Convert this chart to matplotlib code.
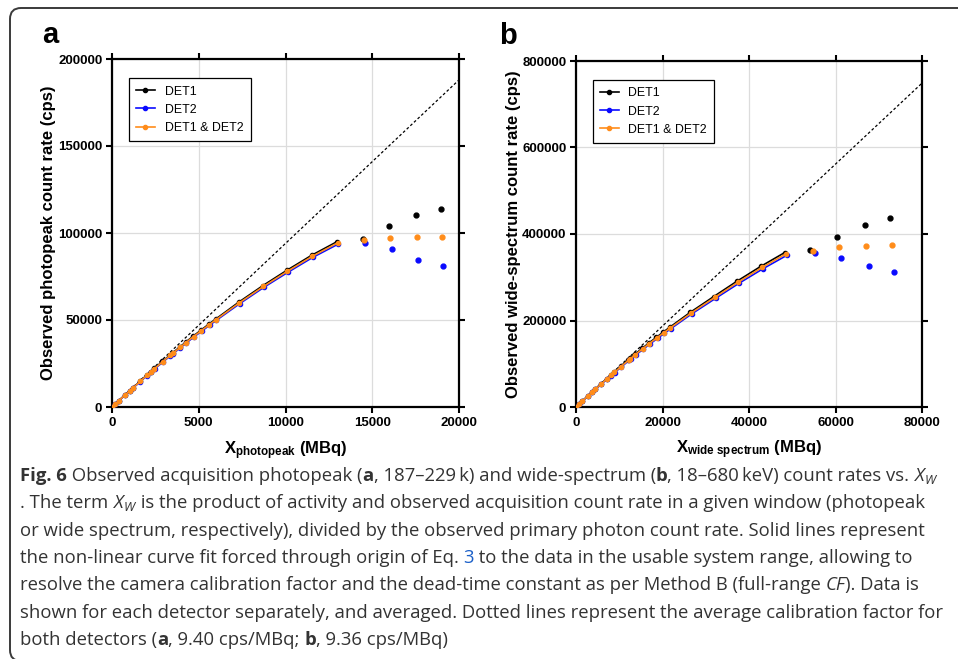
import matplotlib
matplotlib.use('Agg')
import matplotlib.pyplot as plt
from matplotlib import transforms as mtransforms
from matplotlib.patches import FancyBboxPatch

plt.rcParams['font.family'] = ['Liberation Sans', 'DejaVu Sans']
plt.rcParams['mathtext.fontset'] = 'custom'
plt.rcParams['mathtext.rm'] = 'Liberation Sans'
plt.rcParams['mathtext.bf'] = 'Liberation Sans:bold'
plt.rcParams['mathtext.it'] = 'Open Sans:italic'

# ---- panel a: photopeak (usable range, joined by the fit line)
det1_x_a = [0, 190, 380, 765, 1015, 1205, 1625, 2000, 2230, 2430, 2910, 3350, 3500, 3915,
            4245, 4685, 5120, 5580, 5980, 7300, 8700, 10070, 11500, 12950]
det1_y_a = [0, 1810, 3530, 7150, 9360, 11070, 14800, 18330, 20340, 22150, 26180, 29900, 31110, 34530,
            37250, 40770, 44090, 47610, 50530, 60200, 69770, 78500, 87150, 94900]
det2_x_a = [0, 190, 380, 775, 1025, 1215, 1635, 2020, 2250, 2450, 2930, 3370, 3520, 3945,
            4275, 4715, 5160, 5620, 6020, 7360, 8760, 10150, 11580, 13050]
det2_y_a = [0, 1790, 3470, 7050, 9240, 10930, 14600, 18070, 20060, 21850, 25820, 29500, 30690, 34070,
            36750, 40230, 43510, 46990, 49870, 59400, 68830, 77500, 86050, 93700]
avg_x_a = [0, 190, 380, 770, 1020, 1210, 1630, 2010, 2240, 2440, 2920, 3360, 3510, 3930,
           4260, 4700, 5140, 5600, 6000, 7330, 8730, 10110, 11540, 13000]
avg_y_a = [0, 1800, 3500, 7100, 9300, 11000, 14700, 18200, 20200, 22000, 26000, 29700, 30900, 34300,
           37000, 40500, 43800, 47300, 50200, 59800, 69300, 78000, 86600, 94300]
# beyond the usable range (points only)
det1_xo_a = [14440, 15970, 17510, 18970]
det1_yo_a = [96700, 103800, 110300, 114000]
det2_xo_a = [14570, 16110, 17660, 19100]
det2_yo_a = [94400, 90600, 84700, 80800]
avg_xo_a = [14520, 16030, 17570, 19020]
avg_yo_a = [95800, 97300, 97500, 97500]
cf_a = 9.40

# ---- panel b: wide spectrum
det1_x_b = [0, 765, 1380, 2680, 3675, 4440, 5740, 7120, 8040, 8800, 10340, 12100, 12480, 13630,
            15310, 16850, 18610, 20140, 21670, 26420, 31850, 37140, 42730, 48250]
det1_y_b = [0, 7260, 13100, 25200, 34270, 41330, 53220, 65720, 73890, 80640, 94250, 109370, 112390, 122270,
            135580, 147970, 161280, 172870, 184260, 218840, 255330, 290300, 325180, 357000]
det2_x_b = [0, 775, 1400, 2720, 3725, 4500, 5820, 7220, 8140, 8920, 10480, 12260, 12640, 13810,
            15510, 17070, 18850, 20400, 21950, 26760, 32270, 37620, 43290, 48870]
det2_y_b = [0, 7140, 12900, 24800, 33730, 40670, 52380, 64680, 72710, 79360, 92750, 107630, 110610, 120330,
            133420, 145630, 158720, 170130, 181340, 215360, 251270, 285700, 320020, 351400]
avg_x_b = [0, 770, 1390, 2700, 3700, 4470, 5780, 7170, 8090, 8860, 10410, 12180, 12560, 13720,
           15410, 16960, 18730, 20270, 21810, 26590, 32060, 37380, 43010, 48560]
avg_y_b = [0, 7200, 13000, 25000, 34000, 41000, 52800, 65200, 73300, 80000, 93500, 108500, 111500, 121300,
           134500, 146800, 160000, 171500, 182800, 217100, 253300, 288000, 322600, 354200]
det1_xo_b = [54180, 60420, 66900, 72680]
det1_yo_b = [363400, 392700, 421200, 436600]
det2_xo_b = [55180, 61270, 67670, 73600]
det2_yo_b = [356500, 344200, 324900, 311800]
avg_xo_b = [54720, 60730, 67130, 73060]
avg_yo_b = [359600, 368800, 372700, 374200]
cf_b = 9.36

series_names = ['DET1', 'DET2', 'DET1 & DET2']
series_colors = ['#000000', '#0a0aff', '#ff8c1a']

xticks_a = [0, 5000, 10000, 15000, 20000]
yticks_a = [0, 50000, 100000, 150000, 200000]
xticks_b = [0, 20000, 40000, 60000, 80000]
yticks_b = [0, 200000, 400000, 600000, 800000]

W, H = 958, 659
fig = plt.figure(figsize=(W / 100, H / 100), dpi=100)
px = mtransforms.IdentityTransform()


def draw_panel(ax, fits, outs, cf, xticks, yticks, xlabel, ylabel):
    xmax, ymax = xticks[-1], yticks[-1]
    ax.plot([0, xmax], [0, cf * xmax], color='black', lw=0.9, ls=(0, (2.2, 1.8)), zorder=2)
    for (x, y), (xo, yo), name, col in zip(fits, outs, series_names, series_colors):
        ax.plot(x, y, '-o', color=col, ms=3, lw=1.2, label=name, zorder=3)
        ax.plot(xo, yo, 'o', color=col, ms=3.5, ls='none', zorder=3)
    ax.set_xlim(0, xmax)
    ax.set_ylim(0, ymax)
    ax.set_xticks(xticks, labels=[str(v) for v in xticks], fontweight='bold', fontsize=9.5)
    ax.set_yticks(yticks, labels=[str(v) for v in yticks], fontweight='bold', fontsize=9.5)
    ax.tick_params(direction='out', length=4, width=1.5, top=True, right=True, pad=3)
    for s in ax.spines.values():
        s.set_linewidth(1.6)
    ax.grid(True, color='#dcdcdc', lw=0.9)
    ax.set_axisbelow(True)
    ax.set_xlabel(xlabel, fontsize=12, fontweight='bold')
    ax.set_ylabel(ylabel, fontsize=12, fontweight='bold')
    ax.xaxis.set_label_coords(0.5, -0.092)
    leg = ax.legend(loc='upper left', bbox_to_anchor=(0.048, 0.945), borderaxespad=0,
                    fontsize=8.9, numpoints=1, fancybox=False, edgecolor='black',
                    framealpha=1, handlelength=1.5, handletextpad=0.8,
                    labelspacing=0.5, borderpad=0.6)
    leg.get_frame().set_linewidth(0.9)


ax_a = fig.add_axes([112 / W, 1 - 407 / H, 347 / W, 348 / H])
draw_panel(ax_a,
           [(det1_x_a, det1_y_a), (det2_x_a, det2_y_a), (avg_x_a, avg_y_a)],
           [(det1_xo_a, det1_yo_a), (det2_xo_a, det2_yo_a), (avg_xo_a, avg_yo_a)],
           cf_a, xticks_a, yticks_a,
           r'$\mathbf{X}_{\mathbf{photopeak}}$ (MBq)',
           'Observed photopeak count rate (cps)')
ax_a.yaxis.set_label_coords(-0.16, 0.5)

ax_b = fig.add_axes([576 / W, 1 - 407 / H, 346 / W, 346 / H])
draw_panel(ax_b,
           [(det1_x_b, det1_y_b), (det2_x_b, det2_y_b), (avg_x_b, avg_y_b)],
           [(det1_xo_b, det1_yo_b), (det2_xo_b, det2_yo_b), (avg_xo_b, avg_yo_b)],
           cf_b, xticks_b, yticks_b,
           r'$\mathbf{X}_{\mathbf{wide\ spectrum}}$ (MBq)',
           'Observed wide-spectrum count rate (cps)')
ax_b.yaxis.set_label_coords(-0.158, 0.5)

fig.text(42, H - 43, 'a', transform=px, fontsize=21, fontweight='bold', va='baseline')
fig.text(499, H - 44, 'b', transform=px, fontsize=21, fontweight='bold', va='baseline')

# rounded frame (open to the right / bottom like the page crop)
frame = FancyBboxPatch((10, -2), 1000, H - 8 + 2, boxstyle='round,pad=0,rounding_size=11',
                       transform=px, fill=False, edgecolor='#3a3a3a', lw=1.4)
fig.add_artist(frame)

# ---- caption
cap_font = ['Open Sans', 'DejaVu Sans']
cap_color = '#333333'
link_color = '#1a5fc8'
caption = [
    [('Fig. 6', 'b'), (' Observed acquisition photopeak (', 'n'), ('a', 'b'),
     (', 187\u2013229\u2009k) and wide-spectrum (', 'n'), ('b', 'b'),
     (', 18\u2013680\u2009keV) count rates vs. ', 'n'), ('$X_W$', 'n')],
    [('. The term ', 'n'), ('$X_W$', 'n'),
     (' is the product of activity and observed acquisition count rate in a given window (photopeak', 'n')],
    [('or wide spectrum, respectively), divided by the observed primary photon count rate. Solid lines represent', 'n')],
    [('the non-linear curve fit forced through origin of Eq. ', 'n'), ('3', 'l'),
     (' to the data in the usable system range, allowing to', 'n')],
    [('resolve the camera calibration factor and the dead-time constant as per Method B (full-range ', 'n'),
     ('CF', 'i'), ('). Data is', 'n')],
    [('shown for each detector separately, and averaged. Dotted lines represent the average calibration factor for', 'n')],
    [('both detectors (', 'n'), ('a', 'b'), (', 9.40 cps/MBq; ', 'n'), ('b', 'b'), (', 9.36 cps/MBq)', 'n')],
]

renderer = fig.canvas.get_renderer()


def run_kw(style, size):
    kw = dict(transform=px, fontsize=size, family=cap_font, color=cap_color, va='baseline', ha='left')
    if style == 'b':
        kw['fontweight'] = 'bold'
    elif style == 'i':
        kw['fontstyle'] = 'italic'
    elif style == 'l':
        kw['color'] = link_color
    return kw


def width_of(s, kw):
    t1 = fig.text(0, 0, 'x' + s + 'x', **kw)
    t2 = fig.text(0, 0, 'xx', **kw)
    w = t1.get_window_extent(renderer).width - t2.get_window_extent(renderer).width
    t1.remove()
    t2.remove()
    return w


# fit font size so the widest line stays inside the frame
ref = width_of(caption[5][0][0], run_kw('n', 12))
cap_size = 12 * 917 / ref

for i, line in enumerate(caption):
    x = 20
    y = H - (481 + i * 27.3)
    for s, style in line:
        kw = run_kw(style, cap_size)
        fig.text(x, y, s, **kw)
        x += width_of(s, kw)

fig.savefig('out.png', dpi=100)
